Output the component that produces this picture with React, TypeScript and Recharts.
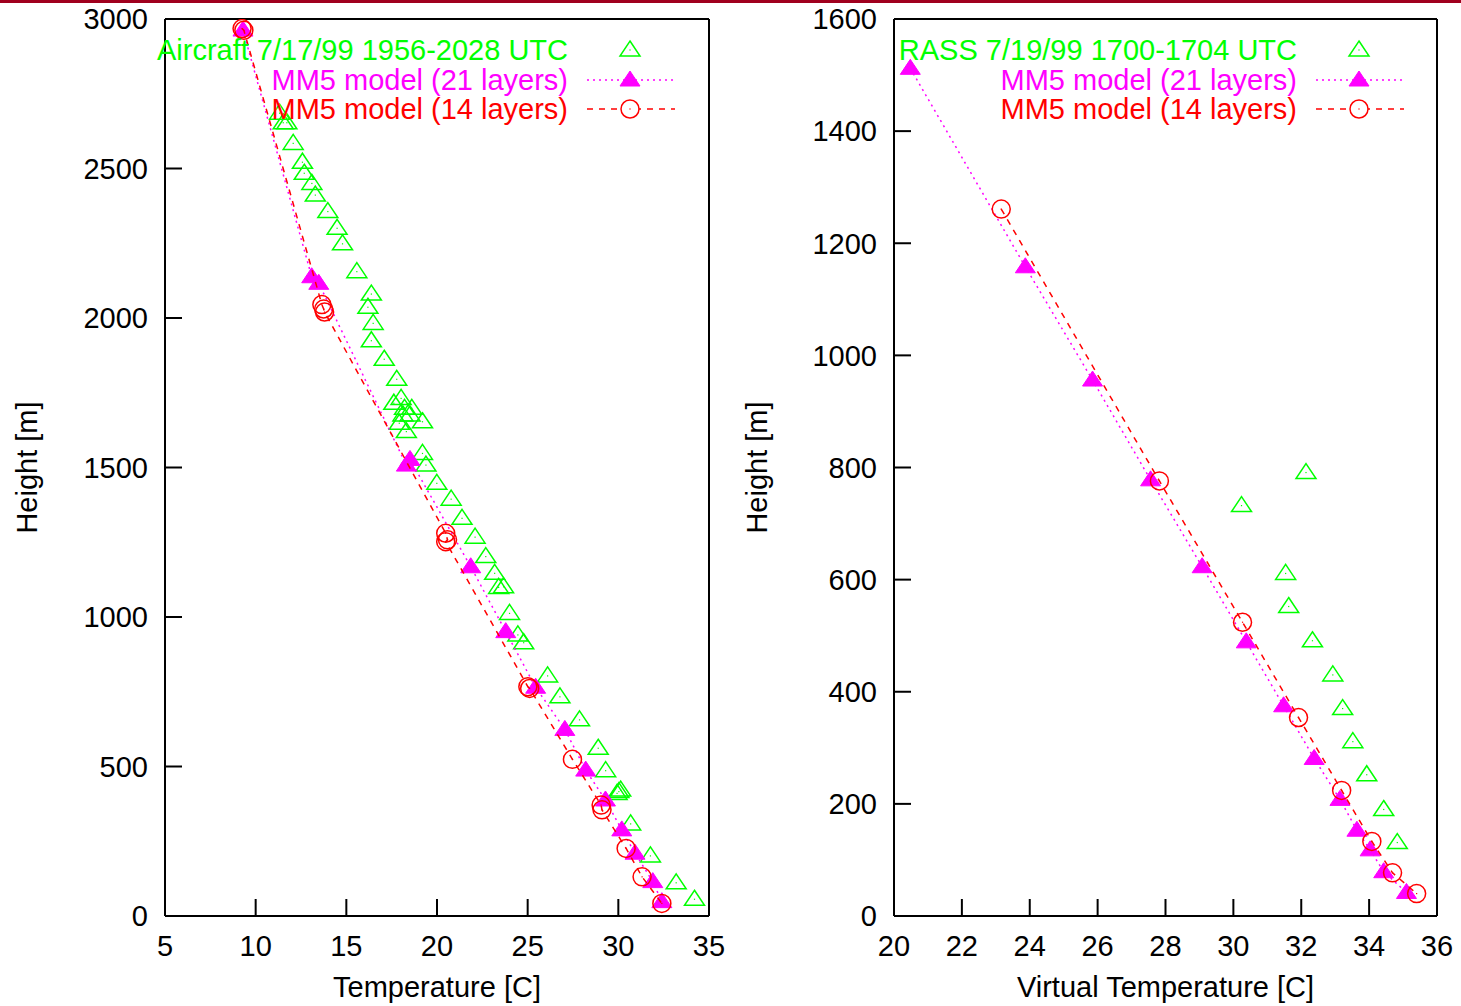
import React from 'react';
import { ScatterChart, Scatter, XAxis, YAxis } from 'recharts';

const GREEN = '#00ff00';
const MAGENTA = '#ff00ff';
const RED = '#ff0000';
const FONT = '"Liberation Sans", Arial, Helvetica, sans-serif';
const FS = 29;

// left panel: aircraft sounding 7/17/99
const aircraftTemp = [
  11.32, 11.52, 11.72, 12.07, 12.58, 12.68, 13.1, 13.29, 13.98, 14.49, 14.79, 15.58, 16.38, 16.19,
  16.48, 16.38, 17.09, 17.78, 17.62, 18.02, 18.21, 18.61, 18.12, 18.51, 19.2, 17.92, 18.31, 19.2,
  19.39, 19.99, 20.78, 21.38, 22.1, 22.69, 23.18, 23.67, 23.4, 24.0, 24.46, 24.78, 26.1, 26.78,
  27.86, 28.89, 29.3, 30.03, 30.13, 29.93, 30.68, 31.77, 33.19, 34.2,
];
const aircraftHeight = [
  2685, 2653, 2653, 2584, 2521, 2484, 2450, 2411, 2356, 2300, 2248, 2155, 2080, 2036,
  1982, 1924, 1862, 1795, 1715, 1731, 1698, 1698, 1676, 1676, 1653, 1648, 1620, 1547,
  1508, 1447, 1394, 1330, 1267, 1202, 1146, 1101, 1099, 1012, 940, 914, 803, 733,
  656, 561, 486, 416, 421, 410, 308, 201, 111, 56,
];
const mm21TempL = [9.3, 13.09, 13.48, 18.31, 18.51, 21.86, 23.79, 25.44, 27.05, 28.2, 29.29, 30.19, 30.92, 31.9, 32.4];
const mm21HeightL = [2963, 2138, 2116, 1508, 1527, 1168, 951, 765, 624, 488, 388, 288, 210, 115, 48];
const mm14TempL = [9.25, 9.35, 13.65, 13.75, 13.8, 20.48, 20.58, 20.48, 25.01, 25.11, 27.47, 29.05, 29.1, 30.43, 31.31, 32.4];
const mm14HeightL = [2968, 2962, 2045, 2030, 2020, 1280, 1258, 1252, 767, 761, 524, 371, 355, 226, 131, 42];

// right panel: RASS 7/19/99
const rassTemp = [32.14, 30.24, 31.54, 31.63, 32.33, 32.93, 33.22, 33.52, 33.93, 34.43, 34.83];
const rassHeight = [791, 732, 611, 552, 491, 430, 370, 311, 252, 190, 131];
const mm21TempR = [20.48, 23.87, 25.85, 27.56, 29.08, 30.38, 31.48, 32.38, 33.14, 33.64, 34.03, 34.43, 35.1];
const mm21HeightR = [1512, 1158, 956, 778, 623, 489, 375, 281, 208, 153, 118, 79, 42];
const mm14TempR = [23.16, 27.82, 30.27, 31.92, 33.19, 34.08, 34.69, 35.4];
const mm14HeightR = [1261, 776, 524, 354, 224, 133, 77, 40];

const tempTicks = [5, 10, 15, 20, 25, 30, 35];
const heightTicks = [0, 500, 1000, 1500, 2000, 2500, 3000];
const vtempTicks = [20, 22, 24, 26, 28, 30, 32, 34, 36];
const vheightTicks = [0, 200, 400, 600, 800, 1000, 1200, 1400, 1600];

const zip = (xs: number[], ys: number[]) => xs.map((x, i) => ({ x, y: ys[i] }));

const triPath = (cx: number, cy: number) => `M${cx},${cy - 9} L${cx + 10},${cy + 6} L${cx - 10},${cy + 6} Z`;

const OpenTriangle = (p: any) => (
  <g>
    <path d={triPath(p.cx, p.cy)} fill="none" stroke={GREEN} strokeWidth={1.5} />
    <rect x={p.cx - 0.6} y={p.cy - 0.6} width={1.2} height={1.2} fill={GREEN} />
  </g>
);
const FilledTriangle = (p: any) => <path d={triPath(p.cx, p.cy)} fill={MAGENTA} stroke={MAGENTA} strokeWidth={1} />;
const OpenCircle = (p: any) => (
  <g>
    <circle cx={p.cx} cy={p.cy} r={9} fill="none" stroke={RED} strokeWidth={1.5} />
    <rect x={p.cx - 0.6} y={p.cy - 0.6} width={1.2} height={1.2} fill={RED} />
  </g>
);

const axisLine = { stroke: '#000', strokeWidth: 2 };
const tickLine = { stroke: '#000', strokeWidth: 2 };
const tickStyle = { fill: '#000', fontSize: FS, fontFamily: FONT };

function Panel(props: {
  left: number; width: number; marginRight: number; yWidth: number;
  xDomain: number[]; xTicks: number[]; yDomain: number[]; yTicks: number[];
  xLabel: string; obs: any[]; mm21: any[]; mm14: any[];
}) {
  const { left, width, marginRight, yWidth, xDomain, xTicks, yDomain, yTicks, xLabel, obs, mm21, mm14 } = props;
  return (
    <div style={{ position: 'absolute', left, top: 0 }}>
      <ScatterChart width={width} height={1006} margin={{ top: 18, right: marginRight, bottom: 0, left: 0 }}>
        <XAxis xAxisId="b" type="number" dataKey="x" domain={xDomain} ticks={xTicks} allowDataOverflow
          height={90} tickSize={-17} tickMargin={36} axisLine={axisLine} tickLine={tickLine} tick={tickStyle}
          label={{ value: xLabel, position: 'insideBottom', offset: 9, fill: '#000', fontSize: FS, fontFamily: FONT }} />
        <XAxis xAxisId="t" orientation="top" type="number" dataKey="x" domain={xDomain} ticks={xTicks} allowDataOverflow
          height={1} tickSize={-17} axisLine={axisLine} tickLine={tickLine} tick={false} />
        <YAxis yAxisId="l" type="number" dataKey="y" domain={yDomain} ticks={yTicks} allowDataOverflow
          width={yWidth} tickSize={-17} tickMargin={34} axisLine={axisLine} tickLine={tickLine} tick={tickStyle}
          label={{ value: 'Height [m]', angle: -90, position: 'insideLeft', offset: 27, textAnchor: 'middle', fill: '#000', fontSize: FS, fontFamily: FONT }} />
        <YAxis yAxisId="r" orientation="right" type="number" dataKey="y" domain={yDomain} ticks={yTicks} allowDataOverflow
          width={1} tickSize={-17} axisLine={axisLine} tickLine={tickLine} tick={false} />
        <Scatter xAxisId="b" yAxisId="l" data={obs} shape={OpenTriangle} isAnimationActive={false} />
        <Scatter xAxisId="b" yAxisId="l" data={mm21} shape={FilledTriangle} isAnimationActive={false}
          line={{ stroke: MAGENTA, strokeWidth: 1.5, strokeDasharray: '2 4' }} />
        <Scatter xAxisId="b" yAxisId="l" data={mm14} shape={OpenCircle} isAnimationActive={false}
          line={{ stroke: RED, strokeWidth: 1.5, strokeDasharray: '6 6' }} />
      </ScatterChart>
    </div>
  );
}

function KeyBox({ textRight, title }: { textRight: number; title: string }) {
  const mx = textRight + 62;
  const x1 = textRight + 19;
  const x2 = textRight + 107;
  const rows = [
    { label: title, color: GREEN, y: 50 },
    { label: 'MM5 model (21 layers)', color: MAGENTA, y: 80 },
    { label: 'MM5 model (14 layers)', color: RED, y: 109 },
  ];
  return (
    <svg width={1461} height={140} style={{ position: 'absolute', left: 0, top: 0, pointerEvents: 'none' }}>
      {rows.map(r => (
        <text key={r.label} x={textRight} y={r.y + 10} textAnchor="end" fill={r.color} fontSize={FS} fontFamily={FONT}>
          {r.label}
        </text>
      ))}
      <OpenTriangle cx={mx} cy={50} />
      <line x1={x1} x2={x2} y1={80} y2={80} stroke={MAGENTA} strokeWidth={1.5} strokeDasharray="2 4" />
      <FilledTriangle cx={mx} cy={80} />
      <line x1={x1} x2={x2} y1={109} y2={109} stroke={RED} strokeWidth={1.5} strokeDasharray="6 6" />
      <circle cx={mx} cy={109} r={9} fill="#fff" stroke={RED} strokeWidth={1.5} />
      <rect x={mx - 0.6} y={108.4} width={1.2} height={1.2} fill={RED} />
    </svg>
  );
}

export default function App() {
  return (
    <div style={{ position: 'absolute', left: 0, top: 0, width: 1461, height: 1006, background: '#fff', overflow: 'hidden' }}>
      <div style={{ position: 'absolute', left: 0, top: 0, width: 1461, height: 3, background: '#a0001e' }} />
      <Panel left={0} width={730} marginRight={20} yWidth={165}
        xDomain={[5, 35]} xTicks={tempTicks} yDomain={[0, 3000]} yTicks={heightTicks}
        xLabel="Temperature [C]"
        obs={zip(aircraftTemp, aircraftHeight)} mm21={zip(mm21TempL, mm21HeightL)} mm14={zip(mm14TempL, mm14HeightL)} />
      <Panel left={730} width={731} marginRight={23} yWidth={164}
        xDomain={[20, 36]} xTicks={vtempTicks} yDomain={[0, 1600]} yTicks={vheightTicks}
        xLabel="Virtual Temperature [C]"
        obs={zip(rassTemp, rassHeight)} mm21={zip(mm21TempR, mm21HeightR)} mm14={zip(mm14TempR, mm14HeightR)} />
      <KeyBox textRight={568} title="Aircraft 7/17/99 1956-2028 UTC" />
      <div style={{ position: 'absolute', left: 729, top: 0 }}>
        <KeyBox textRight={568} title="RASS 7/19/99 1700-1704 UTC" />
      </div>
    </div>
  );
}
